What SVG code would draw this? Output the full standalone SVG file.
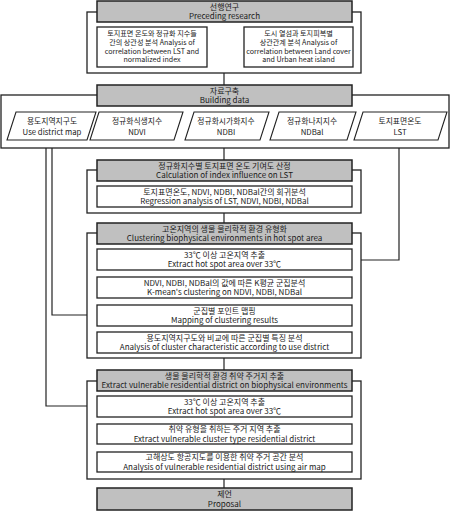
<svg xmlns="http://www.w3.org/2000/svg" width="450" height="512" viewBox="0 0 450 512">
<style>
  .frame{fill:#fff;stroke:#222;stroke-width:1.3}
  .head{fill:#c0c0c0;stroke:#222;stroke-width:1.5}
  .box{fill:#fff;stroke:#222;stroke-width:1.3}
  .para{fill:#fff;stroke:#222;stroke-width:1.1}
  .conn{fill:none;stroke:#222;stroke-width:1.2}
  text{font-family:"Noto Sans CJK KR","Noto Sans",sans-serif;font-size:8px;fill:#1a1a1a;text-anchor:middle}
  .st{font-size:7.1px}
  .pt{font-size:7.8px}
</style>
<rect width="450" height="512" fill="#fff"/>

<!-- frames (containers) -->
<g id="frame1"><rect class="frame" x="87" y="12" width="274" height="61"/></g>
<g id="frame2"><rect class="frame" x="1" y="95" width="448" height="53"/></g>
<g id="frame3"><rect class="frame" x="87" y="170" width="274" height="43"/></g>
<g id="frame4"><rect class="frame" x="87" y="233" width="274" height="125"/></g>
<g id="frame5"><rect class="frame" x="87" y="381" width="274" height="98"/></g>

<g id="connectors">
  <path class="conn" d="M224 73V85"/>
  <path class="conn" d="M46 148V406H87"/>
  <path class="conn" d="M52 148V315H87"/>
  <path class="conn" d="M224 148V160"/>
  <path class="conn" d="M399 148V260H361"/>
  <path class="conn" d="M224 213V223"/>
  <path class="conn" d="M224 358V370"/>
  <path class="conn" d="M224 479V488"/>
</g>

<!-- section 1 -->
<g id="h1"><rect class="head" x="97" y="1" width="255" height="21"/>
  <text x="224.5" y="9.5">선행연구<tspan x="224.5" dy="9.6">Preceding research</tspan></text></g>
<g id="b1a"><rect class="box" x="97" y="27" width="110" height="40"/>
  <text class="st" x="152" y="36.3">토지표면 온도와 정규화 지수들<tspan x="152" dy="8.7">간의 상관성 분석 Analysis of</tspan><tspan x="152" dy="8.7">correlation between LST and</tspan><tspan x="152" dy="8.7">normalized index</tspan></text></g>
<g id="b1b"><rect class="box" x="244" y="27" width="109" height="40"/>
  <text class="st" x="298.5" y="36.3">도시 열섬과 토지피복별<tspan x="298.5" dy="8.7">상관관계 분석 Analysis of</tspan><tspan x="298.5" dy="8.7">correlation between Land cover</tspan><tspan x="298.5" dy="8.7">and Urban heat island</tspan></text></g>

<!-- section 2 -->
<g id="h2"><rect class="head" x="97" y="85" width="255" height="21"/>
  <text x="224.5" y="93.5">자료구축<tspan x="224.5" dy="9.6">Building data</tspan></text></g>
<g id="p1"><polygon class="para" points="16,112 96,112 87,140 7,140"/>
  <text class="pt" x="52" y="124">용도지역지구도<tspan x="52" dy="10.5">Use district map</tspan></text></g>
<g id="p2"><polygon class="para" points="99,112 183,112 174,140 90,140"/>
  <text class="pt" x="137" y="124">정규화식생지수<tspan x="137" dy="10.5">NDVI</tspan></text></g>
<g id="p3"><polygon class="para" points="194,112 269,112 260,140 185,140"/>
  <text class="pt" x="226" y="124">정규화시가화지수<tspan x="226" dy="10.5">NDBI</tspan></text></g>
<g id="p4"><polygon class="para" points="279,112 356,112 347,140 270,140"/>
  <text class="pt" x="312" y="124">정규화나지지수<tspan x="312" dy="10.5">NDBal</tspan></text></g>
<g id="p5"><polygon class="para" points="363,112 447,112 438,140 354,140"/>
  <text class="pt" x="400" y="124">토지표면온도<tspan x="400" dy="10.5">LST</tspan></text></g>

<!-- section 3 -->
<g id="h3"><rect class="head" x="97" y="160" width="255" height="21"/>
  <text x="224.5" y="168.5">정규화지수별 토지표면 온도 기여도 산정<tspan x="224.5" dy="9.6">Calculation of index influence on LST</tspan></text></g>
<g id="b3"><rect class="box" x="97" y="186" width="255" height="21"/>
  <text x="224.5" y="194.5">토지표면온도, NDVI, NDBI, NDBal간의 회귀분석<tspan x="224.5" dy="9.6">Regression analysis of LST, NDVI, NDBI, NDBal</tspan></text></g>

<!-- section 4 -->
<g id="h4"><rect class="head" x="97" y="223" width="255" height="21"/>
  <text x="224.5" y="231.5">고온지역의 생물 물리학적 환경 유형화<tspan x="224.5" dy="9.6">Clustering biophysical environments in hot spot area</tspan></text></g>
<g id="b4a"><rect class="box" x="97" y="249" width="255" height="21"/>
  <text x="224.5" y="257.5">33℃ 이상 고온지역 추출<tspan x="224.5" dy="9.6">Extract hot spot area over 33℃</tspan></text></g>
<g id="b4b"><rect class="box" x="97" y="277" width="255" height="21"/>
  <text x="224.5" y="285.5">NDVI, NDBI, NDBal의 값에 따른 K평균 군집분석<tspan x="224.5" dy="9.6">K-mean's clustering on NDVI, NDBI, NDBal</tspan></text></g>
<g id="b4c"><rect class="box" x="97" y="305" width="255" height="21"/>
  <text x="224.5" y="313.5">군집별 포인트 맵핑<tspan x="224.5" dy="9.6">Mapping of clustering results</tspan></text></g>
<g id="b4d"><rect class="box" x="97" y="332" width="255" height="21"/>
  <text x="224.5" y="340.5">용도지역지구도와 비교에 따른 군집별 특징 분석<tspan x="224.5" dy="9.6">Analysis of cluster characteristic according to use district</tspan></text></g>

<!-- section 5 -->
<g id="h5"><rect class="head" x="97" y="370" width="255" height="21"/>
  <text x="224.5" y="378.5">생물 물리학적 환경 취약 주거지 추출<tspan x="224.5" dy="9.6">Extract vulnerable residential district on biophysical environments</tspan></text></g>
<g id="b5a"><rect class="box" x="97" y="396" width="255" height="21"/>
  <text x="224.5" y="404.5">33℃ 이상 고온지역 추출<tspan x="224.5" dy="9.6">Extract hot spot area over 33℃</tspan></text></g>
<g id="b5b"><rect class="box" x="97" y="424" width="255" height="20"/>
  <text x="224.5" y="432">취약 유형을 취하는 주거 지역 추출<tspan x="224.5" dy="9.6">Extract vulnerable cluster type residential district</tspan></text></g>
<g id="b5c"><rect class="box" x="97" y="452" width="255" height="20"/>
  <text x="224.5" y="460">고해상도 항공지도를 이용한 취약 주거 공간 분석<tspan x="224.5" dy="9.6">Analysis of vulnerable residential district using air map</tspan></text></g>

<!-- section 6 -->
<g id="h6"><rect class="head" x="97" y="488" width="255" height="22"/>
  <text x="224.5" y="497">제언<tspan x="224.5" dy="9.6">Proposal</tspan></text></g>
</svg>
